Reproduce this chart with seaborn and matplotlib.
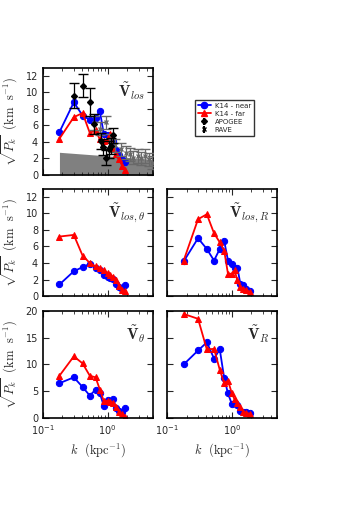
import numpy as np
import pandas as pd
import matplotlib
matplotlib.use("Agg")
import matplotlib.pyplot as plt
from matplotlib.lines import Line2D
import seaborn as sns

# ---------------- data ----------------
k = [0.18, 0.30, 0.41, 0.53, 0.65, 0.76, 0.87, 1.0, 1.1, 1.22, 1.35, 1.5, 1.68, 1.88]

los_near = [5.2, 8.8, 7.2, 6.7, 6.9, 7.7, 5.0, 4.9, 4.5, 4.1, 3.0, 2.4, 1.9, 1.6]
los_far = [4.4, 7.0, 7.5, 5.1, 5.4, 4.3, 4.1, 4.2, 5.0, 3.1, 2.5, 1.9, 1.1, 0.6]

lostheta_near = [1.4, 3.0, 3.5, 3.9, 3.4, 3.2, 2.5, 2.3, 2.2, 2.1, 1.5, 1.1, 0.9, 1.3]
lostheta_far = [7.2, 7.4, 4.9, 4.0, 3.6, 3.4, 3.1, 2.8, 2.5, 2.3, 2.0, 1.2, 0.7, 0.6]

losR_near = [4.2, 7.0, 5.7, 4.3, 5.7, 6.7, 4.3, 3.9, 3.4, 3.4, 1.5, 1.3, 0.9, 0.6]
losR_far = [4.3, 9.3, 9.9, 7.6, 6.5, 5.5, 2.7, 2.7, 3.1, 1.9, 1.1, 0.9, 0.7, 0.5]

theta_near = [6.5, 7.6, 5.8, 4.2, 5.3, 4.6, 2.3, 3.4, 3.2, 3.5, 1.8, 1.4, 1.1, 1.8]
theta_far = [7.9, 11.5, 10.2, 7.9, 7.6, 5.3, 3.2, 3.2, 3.0, 2.9, 2.0, 1.2, 0.8, 0.2]

R_near = [10.0, 12.6, 14.1, 11.1, 12.8, 7.5, 4.6, 2.6, 2.9, 2.4, 1.4, 1.2, 1.1, 1.0]
R_far = [19.4, 18.5, 12.8, 12.9, 9.0, 6.5, 7.0, 4.6, 3.5, 2.9, 2.0, 1.2, 1.0, 0.8]

apogee_k = [0.30, 0.41, 0.53, 0.62, 0.78, 0.85, 0.95, 1.05, 1.12, 1.2]
apogee_v = [9.6, 10.8, 8.8, 6.2, 4.1, 3.4, 2.1, 3.1, 3.5, 4.8]
apogee_e = [1.5, 1.4, 1.7, 1.2, 1.0, 1.0, 0.9, 1.0, 1.0, 0.9]

rave_k = [0.62, 0.75, 0.95, 1.1, 1.3, 1.6, 1.9, 2.2, 2.5, 2.9, 3.3, 3.8, 4.3, 4.8]
rave_v = [6.3, 5.6, 6.4, 4.2, 3.6, 3.1, 2.7, 2.5, 2.1, 2.3, 2.0, 2.3, 1.9, 1.5]
rave_e = [0.8, 0.8, 0.8, 0.8, 0.8, 0.8, 0.8, 0.8, 0.8, 0.8, 0.8, 0.8, 0.8, 0.8]

noise_k = [0.18, 5.0]
noise_top = [2.75, 1.9]

# ---------------- style ----------------
sns.set_style("ticks")
plt.rcParams.update({
    "font.family": ["DejaVu Sans"],
    "mathtext.fontset": "cm",
    "xtick.direction": "in",
    "ytick.direction": "in",
    "xtick.top": True,
    "ytick.right": True,
    "xtick.major.size": 4,
    "ytick.major.size": 4,
    "xtick.minor.size": 2,
    "ytick.minor.size": 2,
    "xtick.labelsize": 7,
    "ytick.labelsize": 7,
    "axes.linewidth": 1.2,
    "axes.edgecolor": "black",
})

fig = plt.figure(figsize=(3.49, 5.24), dpi=100)
W = 0.315
H = 0.205
x_left, x_right = 0.123, 0.479
y_top, y_mid, y_bot = 0.666, 0.435, 0.202

ax_los = fig.add_axes([x_left, y_top, W, H])
ax_lt = fig.add_axes([x_left, y_mid, W, H])
ax_lr = fig.add_axes([x_right, y_mid, W, H])
ax_t = fig.add_axes([x_left, y_bot, W, H])
ax_r = fig.add_axes([x_right, y_bot, W, H])


def draw(ax, near, far):
    df = pd.DataFrame({"k": k + k,
                       "v": near + far,
                       "s": ["near"] * len(k) + ["far"] * len(k)})
    sns.lineplot(data=df[df.s == "near"], x="k", y="v", ax=ax, color="blue",
                 marker="o", markersize=4.5, markeredgecolor="blue", lw=1.3,
                 legend=False)
    sns.lineplot(data=df[df.s == "far"], x="k", y="v", ax=ax, color="red",
                 marker="^", markersize=4.5, markeredgecolor="red", lw=1.3,
                 legend=False)


# top panel extras
ax_los.fill_between(noise_k, 0, noise_top, color="grey", lw=0, zorder=0)
draw(ax_los, los_near, los_far)
ax_los.errorbar(apogee_k, apogee_v, yerr=apogee_e, fmt="D", color="black",
                ms=3, capsize=3.5, elinewidth=0.9, zorder=5)
ax_los.errorbar(rave_k, rave_v, yerr=rave_e, fmt="x", color="dimgray",
                ms=3, capsize=3.5, elinewidth=0.9, zorder=4)

draw(ax_lt, lostheta_near, lostheta_far)
draw(ax_lr, losR_near, losR_far)
draw(ax_t, theta_near, theta_far)
draw(ax_r, R_near, R_far)

titles = {ax_los: r"$\tilde{\mathbf{V}}_{los}$",
          ax_lt: r"$\tilde{\mathbf{V}}_{los,\theta}$",
          ax_lr: r"$\tilde{\mathbf{V}}_{los,R}$",
          ax_t: r"$\tilde{\mathbf{V}}_{\theta}$",
          ax_r: r"$\tilde{\mathbf{V}}_{R}$"}

ylab = r"$\sqrt{P_k}$  $(\mathrm{km\ \ s^{-1}})$"
xlab = r"$k$  $(\mathrm{kpc^{-1}})$"

for ax in [ax_los, ax_lt, ax_lr, ax_t, ax_r]:
    ax.set_xscale("log")
    ax.set_xlim(0.1, 5.0)
    ax.set_xlabel("")
    ax.set_ylabel("")
    ax.text(0.93, 0.78, titles[ax], transform=ax.transAxes, ha="right",
            va="center", fontsize=11)
    ax.tick_params(which="both", direction="in", top=True, right=True)

for ax in [ax_los, ax_lt, ax_lr]:
    ax.set_ylim(0, 13)
    ax.set_yticks([0, 2, 4, 6, 8, 10, 12])
for ax in [ax_t, ax_r]:
    ax.set_ylim(0, 20)
    ax.set_yticks([0, 5, 10, 15, 20])

for ax in [ax_los, ax_lt, ax_lr]:
    ax.tick_params(labelbottom=False)
for ax in [ax_lr, ax_r]:
    ax.tick_params(labelleft=False)

for ax in [ax_los, ax_lt, ax_t]:
    ax.set_ylabel(ylab, fontsize=9, labelpad=4)
for ax in [ax_t, ax_r]:
    ax.set_xlabel(xlab, fontsize=9, labelpad=3)

handles = [
    Line2D([], [], color="blue", marker="o", ms=4.5, lw=1.3),
    Line2D([], [], color="red", marker="^", ms=4.5, lw=1.3),
    ax_los.errorbar([], [], yerr=[], fmt="D", color="black", ms=3, capsize=3),
    ax_los.errorbar([], [], yerr=[], fmt="x", color="black", ms=3, capsize=3),
]
labels = ["K14 - near", "K14 - far", "APOGEE", "RAVE"]
leg = fig.legend(handles, labels, loc="upper left",
                 bbox_to_anchor=(0.548, 0.816), fontsize=5, frameon=True,
                 fancybox=False, edgecolor="black", handlelength=2.0,
                 borderpad=0.4, labelspacing=0.3, handletextpad=0.5)
leg.get_frame().set_linewidth(1.0)

fig.savefig("out.png", dpi=100)
